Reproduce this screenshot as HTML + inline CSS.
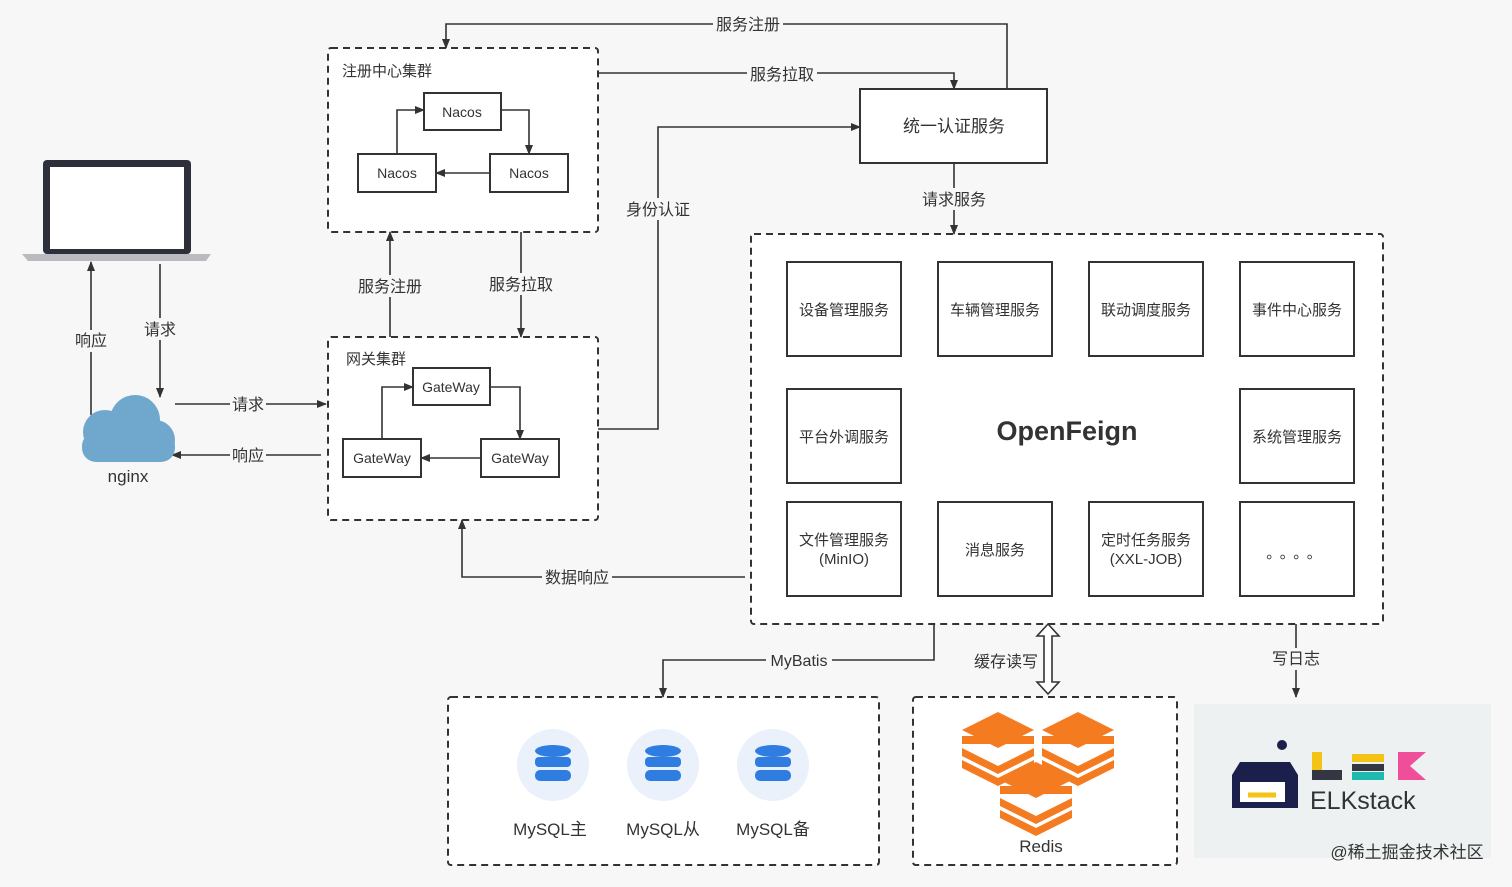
<!DOCTYPE html>
<html><head><meta charset="utf-8"><style>
html,body{margin:0;padding:0;background:#f7f7f7;}
svg{display:block;}
text{font-family:"Liberation Sans","Noto Sans CJK SC",sans-serif;fill:#333;}
</style></head><body>
<svg width="1512" height="887" viewBox="0 0 1512 887" xmlns="http://www.w3.org/2000/svg">
<defs>
<marker id="a" markerWidth="10" markerHeight="10" refX="9" refY="5" orient="auto" markerUnits="userSpaceOnUse"><path d="M0,1 L10,5 L0,9 z" fill="#333"/></marker>
</defs>
<rect width="1512" height="887" fill="#f7f7f7"/>
<g fill="#fff" stroke="#333" stroke-width="2" stroke-dasharray="7,5">
<rect x="328" y="48" width="270" height="184" rx="3"/>
<rect x="328" y="337" width="270" height="183" rx="3"/>
<rect x="751" y="234" width="632" height="390" rx="3"/>
<rect x="448" y="697" width="431" height="168" rx="3"/>
<rect x="913" y="697" width="264" height="168" rx="3"/>
</g>
<rect x="1194" y="704" width="297" height="154" fill="#edf1f2"/>
<g fill="#fff" stroke="#333" stroke-width="2">
<rect x="424" y="93" width="77" height="37"/>
<rect x="358" y="154" width="78" height="38"/>
<rect x="490" y="154" width="78" height="38"/>
<rect x="413" y="368" width="77" height="37"/>
<rect x="343" y="439" width="78" height="38"/>
<rect x="481" y="439" width="78" height="38"/>
<rect x="860" y="89" width="187" height="74"/>
<rect x="787" y="262" width="114" height="94"/><rect x="938" y="262" width="114" height="94"/><rect x="1089" y="262" width="114" height="94"/><rect x="1240" y="262" width="114" height="94"/>
<rect x="787" y="389" width="114" height="94"/><rect x="1240" y="389" width="114" height="94"/>
<rect x="787" y="502" width="114" height="94"/><rect x="938" y="502" width="114" height="94"/><rect x="1089" y="502" width="114" height="94"/><rect x="1240" y="502" width="114" height="94"/>
</g>
<g fill="none" stroke="#333" stroke-width="1.6" marker-end="url(#a)">
<path d="M397,154 V110 H424"/><path d="M501,110 H529 V154"/><path d="M490,173 H436"/>
<path d="M382,439 V387 H413"/><path d="M490,387 H520 V439"/><path d="M481,458 H421"/>
<path d="M1007,89 V24 H446 V48"/>
<path d="M598,73 H954 V89"/>
<path d="M598,429 H658 V127 H860"/>
<path d="M954,163 V234"/>
<path d="M390,337 V232"/><path d="M521,232 V337"/>
<path d="M91,415 V262"/><path d="M160,264 V397"/>
<path d="M175,404 H326"/><path d="M321,455 H172"/>
<path d="M745,577 H462 V520"/>
<path d="M934,624 V660 H663 V697"/>
<path d="M1296,624 V697"/>
</g>
<path d="M1048,624 L1059,636 H1052 V682 H1059 L1048,694 L1037,682 H1044 V636 H1037 Z" fill="#fff" stroke="#333" stroke-width="1.6"/>
<g font-size="16" text-anchor="middle">
<g fill="#f7f7f7" stroke="none">
<rect x="713" y="14" width="70" height="20"/><rect x="747" y="64" width="70" height="20"/>
<rect x="624" y="198" width="70" height="22"/><rect x="918" y="188" width="72" height="22"/>
<rect x="354" y="275" width="72" height="22"/><rect x="485" y="273" width="72" height="22"/>
<rect x="72" y="330" width="38" height="22"/><rect x="142" y="318" width="38" height="22"/>
<rect x="230" y="394" width="36" height="20"/><rect x="230" y="445" width="36" height="20"/>
<rect x="542" y="567" width="70" height="20"/><rect x="766" y="650" width="66" height="20"/>
<rect x="970" y="650" width="72" height="22"/><rect x="1268" y="648" width="56" height="22"/>
</g>
<text x="748" y="30">服务注册</text><text x="782" y="80">服务拉取</text>
<text x="658" y="215">身份认证</text><text x="954" y="205">请求服务</text>
<text x="390" y="292">服务注册</text><text x="521" y="290">服务拉取</text>
<text x="91" y="346">响应</text><text x="160" y="335">请求</text>
<text x="248" y="410">请求</text><text x="248" y="461">响应</text>
<text x="577" y="583">数据响应</text><text x="799" y="666">MyBatis</text>
<text x="1006" y="667">缓存读写</text><text x="1296" y="664">写日志</text>
</g>
<g font-size="14" text-anchor="middle">
<text x="462" y="117">Nacos</text><text x="397" y="178">Nacos</text><text x="529" y="178">Nacos</text>
<text x="451" y="392">GateWay</text><text x="382" y="463">GateWay</text><text x="520" y="463">GateWay</text>
<text x="376" y="364" font-size="15">网关集群</text>
</g>
<text x="342" y="76" font-size="15">注册中心集群</text>
<g font-size="15" text-anchor="middle">
<text x="954" y="132" font-size="17">统一认证服务</text>
<text x="844" y="315">设备管理服务</text><text x="995" y="315">车辆管理服务</text><text x="1146" y="315">联动调度服务</text><text x="1297" y="315">事件中心服务</text>
<text x="844" y="442">平台外调服务</text><text x="1297" y="442">系统管理服务</text>
<text x="844" y="545">文件管理服务</text><text x="844" y="564">(MinIO)</text>
<text x="995" y="555">消息服务</text>
<text x="1146" y="545">定时任务服务</text><text x="1146" y="564">(XXL-JOB)</text>
<text x="1297" y="558" letter-spacing="6">。。。。</text>
</g>
<text x="1067" y="440" font-size="27" font-weight="bold" text-anchor="middle" fill="#222">OpenFeign</text>
<rect x="43" y="160" width="148" height="94" rx="4" fill="#2d2f3a"/>
<rect x="50" y="167" width="134" height="82" fill="#fff"/>
<path d="M22,254 H211 L206,261 H28 Z" fill="#b9bbbe"/>
<g fill="#6fa8cc">
<circle cx="105" cy="432" r="22"/><circle cx="135" cy="420" r="25"/><circle cx="155" cy="440" r="20"/>
<rect x="82" y="432" width="93" height="30" rx="14"/>
</g>
<text x="128" y="482" font-size="17" text-anchor="middle">nginx</text>
<g>
<circle cx="553" cy="765" r="36" fill="#eaf1fb"/><circle cx="663" cy="765" r="36" fill="#eaf1fb"/><circle cx="773" cy="765" r="36" fill="#eaf1fb"/>
<g fill="#2f7de1">
<ellipse cx="553" cy="751" rx="18" ry="6"/><rect x="535" y="757" width="36" height="10" rx="4"/><rect x="535" y="770" width="36" height="11" rx="5"/>
<ellipse cx="663" cy="751" rx="18" ry="6"/><rect x="645" y="757" width="36" height="10" rx="4"/><rect x="645" y="770" width="36" height="11" rx="5"/>
<ellipse cx="773" cy="751" rx="18" ry="6"/><rect x="755" y="757" width="36" height="10" rx="4"/><rect x="755" y="770" width="36" height="11" rx="5"/>
</g>
</g>
<g font-size="17" text-anchor="middle">
<text x="550" y="835">MySQL主</text><text x="663" y="835">MySQL从</text><text x="773" y="835">MySQL备</text>
<text x="1041" y="852">Redis</text>
</g>
<g fill="#f47b20">
<g><path d="M998,712 L1034,730 L998,748 L962,730 Z"/><rect x="962" y="736" width="72" height="8"/><path d="M962,748 L998,766 L1034,748 V756 L998,774 L962,756 Z"/><path d="M962,760 L998,778 L1034,760 V768 L998,786 L962,768 Z"/></g>
<g transform="translate(80,0)"><path d="M998,712 L1034,730 L998,748 L962,730 Z"/><path d="M962,748 L998,766 L1034,748 V756 L998,774 L962,756 Z"/><path d="M962,760 L998,778 L1034,760 V768 L998,786 L962,768 Z"/><rect x="962" y="736" width="72" height="8"/></g>
<g transform="translate(38,50)"><path d="M998,712 L1034,730 L998,748 L962,730 Z"/><path d="M962,748 L998,766 L1034,748 V756 L998,774 L962,756 Z"/><path d="M962,760 L998,778 L1034,760 V768 L998,786 L962,768 Z"/><rect x="962" y="736" width="72" height="8"/></g>
</g>
<path d="M1240,762 H1290 L1298,775 V808 H1232 V775 Z" fill="#1b1f4b"/>
<rect x="1240" y="782" width="45" height="20" fill="#fff"/>
<path d="M1248,795 h28" stroke="#f3c316" stroke-width="5"/>
<circle cx="1282" cy="745" r="5" fill="#1b1f4b"/>
<rect x="1312" y="752" width="10" height="28" fill="#f3c316"/><rect x="1312" y="770" width="30" height="10" fill="#343741"/>
<rect x="1352" y="754" width="32" height="8" fill="#f3c316"/><rect x="1352" y="764" width="32" height="7" fill="#343741"/><rect x="1352" y="772" width="32" height="8" fill="#20b9b0"/>
<path d="M1398,752 H1426 L1410,766 L1426,780 H1398 Z" fill="#f04e98"/>
<text x="1310" y="809" font-size="25" fill="#222">ELKstack</text>
<text x="1407" y="858" font-size="17" fill="#bbb" text-anchor="middle">@稀土掘金技术社区</text>
</svg>
</body></html>
